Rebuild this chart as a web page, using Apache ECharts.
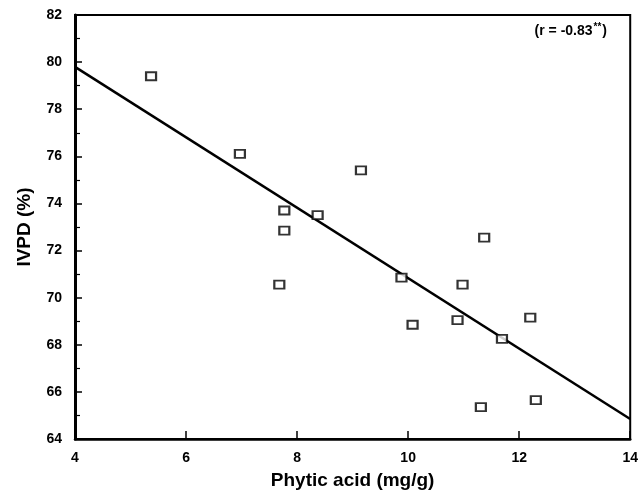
<!DOCTYPE html>
<html>
<head>
<meta charset="utf-8">
<script src="https://cdn.jsdelivr.net/npm/echarts@6/dist/echarts.min.js"></script>
<style>
  html, body { margin: 0; padding: 0; background: #fff; }
  #chart { width: 641px; height: 495px; }
</style>
</head>
<body>
<div id="chart"></div>
<script>
  // phytic acid (mg/g) vs IVPD (%)
  const phyticAcid = [5.37, 6.97, 9.15, 7.77, 7.77, 8.37, 7.68, 9.88, 10.98, 11.37, 10.08, 10.89, 12.2, 11.69, 11.31, 12.3];
  const ivpd = [79.4, 76.1, 75.4, 73.7, 72.85, 73.5, 70.55, 70.85, 70.55, 72.55, 68.85, 69.05, 69.15, 68.25, 65.35, 65.65];
  // fitted regression line end points
  const fitX = [4, 14];
  const fitY = [79.8, 64.85];
  const xTicks = [4, 6, 8, 10, 12, 14];
  const yTicks = [64, 66, 68, 70, 72, 74, 76, 78, 80, 82];

  const font = '"Liberation Sans", Arial, sans-serif';
  const chart = echarts.init(document.getElementById('chart'));

  const points = phyticAcid.map((x, i) => [x, ivpd[i]]);
  const fitLine = fitX.map((x, i) => [x, fitY[i]]);

  chart.setOption({
    animation: false,
    grid: {
      left: 75,
      right: 10,
      top: 15,
      bottom: 54,
      show: true,
      borderColor: '#000',
      borderWidth: 2
    },
    xAxis: {
      type: 'value',
      min: xTicks[0],
      max: xTicks[xTicks.length - 1],
      interval: 2,
      name: 'Phytic acid (mg/g)',
      nameLocation: 'middle',
      nameGap: 32,
      nameTextStyle: { fontFamily: font, fontWeight: 'bold', fontSize: 19, color: '#000' },
      axisLine: { lineStyle: { color: '#000', width: 2.5 } },
      axisTick: { inside: true, length: 8, lineStyle: { color: '#000', width: 1.5 } },
      axisLabel: { fontFamily: font, fontWeight: 'bold', fontSize: 14, color: '#000', margin: 12 },
      splitLine: { show: false }
    },
    yAxis: {
      type: 'value',
      min: yTicks[0],
      max: yTicks[yTicks.length - 1],
      interval: 2,
      name: 'IVPD (%)',
      nameLocation: 'middle',
      nameGap: 41,
      nameTextStyle: { fontFamily: font, fontWeight: 'bold', fontSize: 19, color: '#000' },
      axisLine: { lineStyle: { color: '#000', width: 3 } },
      axisTick: { inside: true, length: 7, lineStyle: { color: '#000', width: 1.5 } },
      minorTick: { show: true, splitNumber: 2, length: 5, lineStyle: { color: '#000', width: 1.2 } },
      axisLabel: { fontFamily: font, fontWeight: 'bold', fontSize: 14, color: '#000', margin: 13 },
      splitLine: { show: false }
    },
    graphic: [{
      type: 'text',
      right: 34,
      top: 22,
      style: {
        text: '{a|(r = -0.83}{s|**}{a|)}',
        rich: {
          a: { fontFamily: font, fontWeight: 'bold', fontSize: 14, fill: '#000' },
          s: { fontFamily: font, fontWeight: 'bold', fontSize: 10, fill: '#000', verticalAlign: 'top', padding: [0, 1, 8, 1] }
        }
      }
    }],
    series: [
      {
        type: 'line',
        data: fitLine,
        symbol: 'none',
        lineStyle: { color: '#000', width: 2.5 },
        z: 2
      },
      {
        type: 'scatter',
        data: points,
        symbol: 'rect',
        symbolSize: [10, 8],
        itemStyle: { color: '#fff', borderColor: '#000', borderWidth: 2 },
        z: 3
      }
    ]
  });
</script>
</body>
</html>
